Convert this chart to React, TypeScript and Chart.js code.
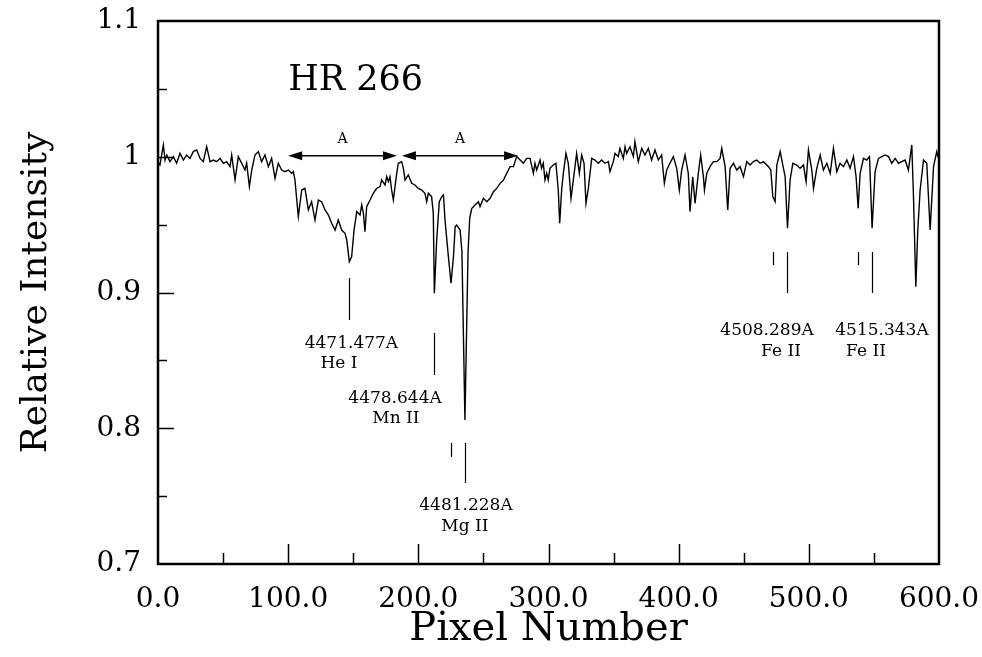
import { useEffect, useRef } from 'react';
import { Chart, registerables } from 'chart.js';

Chart.register(...registerables);

// Spectrum of HR 266: pixel number vs relative intensity
const pixelNumber = [
  0, 1.5, 4.1, 5.4, 6.7, 9.2, 11.8, 14.3, 16.9, 19.5, 22.0, 24.6, 27.1, 29.7, 32.3, 34.8, 37.4, 40.0, 42.5, 45.1,
  47.6, 50.2, 52.8, 55.3, 56.6, 59.2, 61.7, 64.3, 66.8, 68.1, 70.2, 72.0, 74.5, 77.1, 79.6, 82.2, 84.8, 87.3, 89.9, 92.4,
  95.0, 97.6, 100.1, 102.7, 104.0, 105.2, 107.8, 110.4, 112.9, 115.5, 118.0, 120.6, 123.2, 125.7, 128.3, 130.9, 133.4, 136.0, 138.5, 141.1,
  143.7, 145.0, 147.0, 148.8, 150.6, 152.7, 155.2, 156.5, 157.8, 159.0, 160.3, 162.9, 165.4, 168.0, 170.6, 171.8, 174.4, 175.7, 177.0, 178.2,
  179.5, 180.8, 183.4, 184.6, 187.2, 188.5, 189.8, 192.3, 194.9, 197.4, 200.0, 202.6, 205.1, 206.4, 207.7, 210.2, 211.5, 212.3, 214.1, 216.1,
  218.0, 219.3, 220.5, 223.1, 225.1, 227.0, 228.3, 229.5, 232.1, 233.5, 235.8, 238.2, 239.5, 241.1, 243.6, 246.2, 247.4, 250.0, 252.6, 255.1,
  257.7, 260.2, 262.8, 265.4, 267.9, 270.5, 273.0, 275.6, 278.2, 280.7, 283.3, 285.8, 288.4, 289.6, 290.9, 293.5, 294.7, 296.0, 297.3, 298.6,
  299.8, 301.1, 303.7, 305.7, 307.5, 308.6, 310.1, 311.4, 313.4, 315.2, 317.3, 319.1, 321.6, 323.7, 325.5, 327.3, 328.8, 330.6, 333.2, 335.7,
  338.3, 340.8, 343.4, 346.0, 347.2, 349.8, 351.1, 353.6, 354.9, 357.5, 358.8, 360.0, 362.6, 365.2, 366.4, 369.0, 371.6, 374.1, 376.7, 379.2,
  381.8, 384.4, 386.9, 389.0, 390.8, 393.3, 395.9, 398.5, 400.5, 402.3, 404.9, 407.4, 408.7, 410.8, 412.6, 415.1, 416.9, 419.0, 419.8, 421.6,
  424.1, 426.7, 429.3, 431.8, 433.1, 435.7, 437.7, 439.5, 442.1, 444.6, 447.2, 449.8, 452.3, 454.9, 457.4, 460.0, 462.6, 465.1, 469.0, 470.8,
  472.3, 474.1, 475.4, 478.0, 480.0, 481.8, 483.6, 485.6, 487.7, 490.7, 493.3, 495.9, 497.9, 499.7, 502.3, 503.6, 506.1, 508.7, 511.2, 513.8,
  516.4, 518.9, 521.5, 524.0, 526.6, 529.2, 531.7, 534.3, 536.3, 537.9, 539.4, 542.0, 544.5, 546.6, 548.6, 550.9, 553.5, 556.1, 558.6, 561.2,
  563.7, 566.3, 568.9, 571.4, 574.0, 576.5, 579.1, 580.4, 582.2, 583.7, 585.5, 588.1, 590.6, 593.2, 595.8, 598.3, 600.0,
];

const relativeIntensity = [
  0.9960, 0.9939, 1.0087, 0.9976, 1.0013, 0.9964, 1.0001, 0.9952, 1.0025, 0.9976, 1.0013, 0.9988, 1.0038, 1.0050, 0.9988, 0.9964, 1.0074, 0.9964, 0.9976, 0.9964,
  0.9988, 0.9952, 0.9964, 0.9927, 1.0013, 0.9829, 1.0001, 0.9952, 0.9902, 0.9952, 0.9780, 0.9902, 1.0013, 1.0038, 0.9964, 1.0013, 0.9927, 0.9988, 0.9841, 0.9952,
  0.9902, 0.9890, 0.9902, 0.9878, 0.9890, 0.9829, 0.9559, 0.9755, 0.9767, 0.9608, 0.9669, 0.9534, 0.9681, 0.9669, 0.9608, 0.9571, 0.9510, 0.9460, 0.9534, 0.9460,
  0.9436, 0.9387, 0.9227, 0.9264, 0.9460, 0.9596, 0.9571, 0.9645, 0.9583, 0.9448, 0.9632, 0.9681, 0.9731, 0.9767, 0.9780, 0.9829, 0.9792, 0.9853, 0.9817, 0.9853,
  0.9755, 0.9681, 0.9878, 0.9952, 0.9964, 0.9915, 0.9829, 0.9866, 0.9804, 0.9792, 0.9767, 0.9755, 0.9731, 0.9669, 0.9731, 0.9706, 0.9583, 0.8994, 0.9387, 0.9669,
  0.9706, 0.9718, 0.9534, 0.9264, 0.9068, 0.9264, 0.9485, 0.9497, 0.9460, 0.9300, 0.8061, 0.9300, 0.9550, 0.9620, 0.9645, 0.9669, 0.9632, 0.9694, 0.9669, 0.9694,
  0.9743, 0.9767, 0.9804, 0.9829, 0.9878, 0.9927, 0.9927, 1.0001, 0.9976, 0.9952, 0.9988, 0.9988, 0.9878, 0.9952, 0.9902, 0.9976, 0.9915, 0.9952, 0.9829, 0.9878,
  0.9829, 0.9915, 0.9939, 0.9952, 0.9755, 0.9510, 0.9755, 0.9878, 1.0025, 0.9952, 0.9694, 0.9829, 1.0025, 0.9878, 1.0013, 0.9952, 0.9657, 0.9767, 0.9988, 0.9976,
  0.9952, 0.9976, 0.9952, 0.9964, 0.9890, 0.9964, 1.0025, 1.0001, 1.0062, 0.9988, 1.0074, 1.0025, 1.0074, 1.0001, 1.0111, 0.9964, 1.0062, 1.0013, 1.0062, 0.9976,
  1.0050, 0.9976, 1.0013, 0.9804, 0.9902, 0.9952, 1.0001, 0.9915, 0.9755, 0.9902, 1.0013, 0.9878, 0.9596, 0.9853, 0.9657, 0.9878, 1.0013, 0.9853, 0.9755, 0.9878,
  0.9927, 0.9964, 0.9964, 0.9988, 1.0062, 0.9927, 0.9608, 0.9915, 0.9952, 0.9902, 0.9927, 0.9853, 0.9964, 0.9939, 0.9964, 0.9976, 0.9952, 0.9964, 0.9927, 0.9902,
  0.9706, 0.9669, 0.9939, 1.0038, 0.9939, 0.9853, 0.9473, 0.9829, 0.9952, 0.9939, 0.9915, 0.9939, 0.9817, 1.0050, 0.9902, 0.9767, 0.9915, 1.0013, 0.9902, 0.9952,
  0.9878, 1.0062, 0.9890, 0.9952, 0.9927, 0.9976, 0.9915, 1.0001, 0.9853, 0.9620, 0.9878, 0.9988, 0.9976, 1.0001, 0.9473, 0.9890, 0.9988, 1.0001, 1.0013, 1.0001,
  0.9952, 0.9988, 0.9952, 0.9964, 0.9976, 0.9902, 1.0087, 0.9706, 0.9043, 0.9460, 0.9755, 0.9976, 0.9952, 0.9460, 0.9927, 1.0038, 0.9976,
];

// Axes
const xTickValues = [0, 100, 200, 300, 400, 500, 600];
const xTickLabels = ['0.0', '100.0', '200.0', '300.0', '400.0', '500.0', '600.0'];
const xMinorTickValues = [50, 150, 250, 350, 450, 550];
const yTickValues = [0.7, 0.8, 0.9, 1.0, 1.1];
const yTickLabels = ['0.7', '0.8', '0.9', '1', '1.1'];
const yMinorTickValues = [0.75, 0.85, 0.95, 1.05];
const xTitle = 'Pixel Number';
const yTitle = 'Relative Intensity';

// Annotations (in data coordinates)
const starName = 'HR 266';
const starNameAt = [100, 1.049];
const arrowFrom = [100, 187.4];
const arrowTo = [183.6, 276.6];
const arrowLevel = 1.0008;
const arrowText = 'A';
const arrowTextLevel = 1.0101;

const wavelengthLabels = ['4471.477A', '4478.644A', '4481.228A', '4508.289A', '4515.343A'];
const ionLabels = ['He I', 'Mn II', 'Mg II', 'Fe II', 'Fe II'];
const wavelengthLabelX = [148.6, 182.1, 236.6, 467.9, 556.2];
const wavelengthLabelY = [0.8591, 0.8186, 0.7398, 0.8687, 0.8687];
const ionLabelX = [139.0, 182.8, 235.8, 478.6, 543.9];
const ionLabelY = [0.8444, 0.8039, 0.7243, 0.8532, 0.8532];
const markerX = [146.7, 212.0, 225.1, 235.8, 472.5, 483.2, 537.5, 548.5];
const markerTop = [0.9107, 0.8702, 0.7891, 0.7891, 0.9298, 0.9298, 0.9298, 0.9298];
const markerBottom = [0.8797, 0.8392, 0.7788, 0.7597, 0.9203, 0.8996, 0.9203, 0.8996];

const FONT = '"DejaVu Serif", "Liberation Serif", serif';

const decorPlugin = {
  id: 'decor',
  afterDatasetsDraw(chart: any) {
    const { ctx, chartArea: a, scales } = chart;
    const x = scales.x;
    const y = scales.y;
    ctx.save();
    ctx.strokeStyle = '#000';
    ctx.fillStyle = '#000';

    // inward tick marks
    ctx.lineWidth = 1.5;
    ctx.beginPath();
    xTickValues.forEach((v) => {
      if (v <= x.min || v >= x.max) return;
      const px = Math.round(x.getPixelForValue(v)) + 0.5;
      ctx.moveTo(px, a.bottom);
      ctx.lineTo(px, a.bottom - 20);
    });
    xMinorTickValues.forEach((v) => {
      const px = Math.round(x.getPixelForValue(v)) + 0.5;
      ctx.moveTo(px, a.bottom);
      ctx.lineTo(px, a.bottom - 11);
    });
    yTickValues.forEach((v) => {
      if (v <= y.min || v >= y.max) return;
      const py = Math.round(y.getPixelForValue(v)) + 0.5;
      ctx.moveTo(a.left, py);
      ctx.lineTo(a.left + 16, py);
    });
    yMinorTickValues.forEach((v) => {
      const py = Math.round(y.getPixelForValue(v)) + 0.5;
      ctx.moveTo(a.left, py);
      ctx.lineTo(a.left + 9, py);
    });
    ctx.stroke();

    // frame
    ctx.lineWidth = 2.5;
    ctx.strokeRect(a.left, a.top, a.right - a.left, a.bottom - a.top);

    // star name
    ctx.font = `35px ${FONT}`;
    ctx.textAlign = 'left';
    ctx.textBaseline = 'alphabetic';
    ctx.fillText(starName, x.getPixelForValue(starNameAt[0]), y.getPixelForValue(starNameAt[1]));

    // double arrows
    const ay = y.getPixelForValue(arrowLevel);
    ctx.lineWidth = 1.5;
    ctx.font = `14px ${FONT}`;
    ctx.textAlign = 'center';
    arrowFrom.forEach((f, i) => {
      const x1 = x.getPixelForValue(f);
      const x2 = x.getPixelForValue(arrowTo[i]);
      const head = 14;
      const hw = 4.5;
      ctx.beginPath();
      ctx.moveTo(x1 + head - 2, ay);
      ctx.lineTo(x2 - head + 2, ay);
      ctx.stroke();
      ctx.beginPath();
      ctx.moveTo(x1, ay);
      ctx.lineTo(x1 + head, ay - hw);
      ctx.lineTo(x1 + head, ay + hw);
      ctx.closePath();
      ctx.fill();
      ctx.beginPath();
      ctx.moveTo(x2, ay);
      ctx.lineTo(x2 - head, ay - hw);
      ctx.lineTo(x2 - head, ay + hw);
      ctx.closePath();
      ctx.fill();
      ctx.fillText(arrowText, (x1 + x2) / 2, y.getPixelForValue(arrowTextLevel));
    });

    // line identification markers
    ctx.lineWidth = 1.2;
    ctx.beginPath();
    markerX.forEach((mx, i) => {
      const px = Math.round(x.getPixelForValue(mx)) + 0.5;
      ctx.moveTo(px, y.getPixelForValue(markerTop[i]));
      ctx.lineTo(px, y.getPixelForValue(markerBottom[i]));
    });
    ctx.stroke();

    ctx.font = `17px ${FONT}`;
    ctx.textAlign = 'center';
    wavelengthLabels.forEach((t, i) => {
      ctx.fillText(t, x.getPixelForValue(wavelengthLabelX[i]), y.getPixelForValue(wavelengthLabelY[i]));
      ctx.fillText(ionLabels[i], x.getPixelForValue(ionLabelX[i]), y.getPixelForValue(ionLabelY[i]));
    });
    ctx.restore();
  },
};

const clearScalePadding = (s: any) => {
  s.paddingTop = 0;
  s.paddingBottom = 0;
  s.paddingLeft = 0;
  s.paddingRight = 0;
};

export default function App() {
  const canvasRef = useRef<HTMLCanvasElement | null>(null);

  useEffect(() => {
    const canvas = canvasRef.current;
    if (!canvas) return;
    const data = pixelNumber.map((px, i) => ({ x: px, y: relativeIntensity[i] }));
    const chart = new Chart(canvas, {
      type: 'line',
      data: {
        datasets: [
          {
            data,
            borderColor: '#000',
            borderWidth: 1.4,
            pointRadius: 0,
            tension: 0,
            fill: false,
          },
        ],
      },
      options: {
        responsive: false,
        animation: false,
        devicePixelRatio: 1,
        parsing: false as any,
        layout: { padding: { top: 21, right: 43, bottom: 0, left: 0 } },
        plugins: {
          legend: { display: false },
          tooltip: { enabled: false },
          title: { display: false },
        },
        scales: {
          x: {
            type: 'linear',
            min: 0,
            max: 600,
            afterFit: (s: any) => {
              s.height = 93;
              clearScalePadding(s);
            },
            afterBuildTicks: (s: any) => {
              s.ticks = xTickValues.map((v) => ({ value: v }));
            },
            grid: { display: false, drawTicks: false },
            border: { display: false },
            ticks: {
              callback: (_v: any, i: number) => xTickLabels[i],
              font: { family: FONT, size: 28 },
              color: '#000',
              padding: 19,
              maxRotation: 0,
              autoSkip: false,
            },
            title: {
              display: true,
              text: xTitle,
              font: { family: FONT, size: 40 },
              color: '#000',
              padding: { top: 0, bottom: 3 },
            },
          },
          y: {
            type: 'linear',
            min: 0.7,
            max: 1.1,
            afterFit: (s: any) => {
              s.width = 158;
              clearScalePadding(s);
            },
            afterBuildTicks: (s: any) => {
              s.ticks = yTickValues.map((v) => ({ value: v }));
            },
            grid: { display: false, drawTicks: false },
            border: { display: false },
            ticks: {
              callback: (_v: any, i: number) => yTickLabels[i],
              font: { family: FONT, size: 28 },
              color: '#000',
              padding: 17,
              autoSkip: false,
            },
            title: {
              display: true,
              text: yTitle,
              font: { family: FONT, size: 36 },
              color: '#000',
              padding: { top: 15, bottom: 0 },
            },
          },
        },
      },
      plugins: [decorPlugin],
    });
    return () => chart.destroy();
  }, []);

  return (
    <div style={{ position: 'fixed', left: 0, top: 0, width: 982, height: 657, background: '#fff' }}>
      <canvas ref={canvasRef} width={982} height={657} style={{ display: 'block', width: 982, height: 657 }} />
    </div>
  );
}
